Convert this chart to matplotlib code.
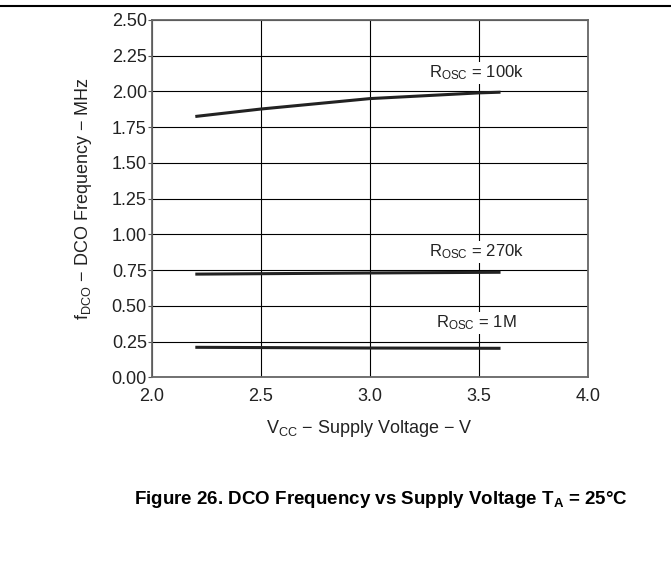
import matplotlib
matplotlib.use("Agg")
import matplotlib.pyplot as plt
from matplotlib.lines import Line2D

plt.rcParams['font.family'] = ['Liberation Sans', 'DejaVu Sans']
plt.rcParams['mathtext.fontset'] = 'custom'
plt.rcParams['mathtext.rm'] = 'Liberation Sans'
plt.rcParams['mathtext.it'] = 'Liberation Sans'
plt.rcParams['mathtext.bf'] = 'Liberation Sans:bold'

# data
vcc = [2.2, 2.5, 3.0, 3.5, 3.6]
f_100k = [1.825, 1.877, 1.95, 1.99, 1.995]
vcc_flat = [2.2, 3.0, 3.6]
f_270k = [0.722, 0.73, 0.735]
f_1m = [0.21, 0.205, 0.203]

labels = [r'$\mathrm{R_{OSC}}$ = 100k', r'$\mathrm{R_{OSC}}$ = 270k', r'$\mathrm{R_{OSC}}$ = 1M']
label_pos = [(3.49, 2.13), (3.49, 0.877), (3.49, 0.38)]

xticks = [2.0, 2.5, 3.0, 3.5, 4.0]
yticks = [0.0, 0.25, 0.5, 0.75, 1.0, 1.25, 1.5, 1.75, 2.0, 2.25, 2.5]

fig = plt.figure(figsize=(6.71, 5.78), dpi=100)
ax = fig.add_axes([0.2261, 0.3472, 0.6498, 0.6182])

line_color = '#222222'
ax.plot(vcc, f_100k, color=line_color, lw=2.2, solid_capstyle='butt', zorder=3)
ax.plot(vcc_flat, f_270k, color=line_color, lw=2.2, solid_capstyle='butt', zorder=3)
ax.plot(vcc_flat, f_1m, color=line_color, lw=2.2, solid_capstyle='butt', zorder=3)

for txt, (x, y) in zip(labels, label_pos):
    ax.text(x, y, txt, ha='center', va='center', fontsize=12, color='#222222',
            bbox=dict(facecolor='white', edgecolor='none', pad=1), zorder=4)

ax.set_xlim(2.0, 4.0)
ax.set_ylim(0.0, 2.5)
ax.set_xticks(xticks)
ax.set_xticklabels(['%.1f' % t for t in xticks])
ax.set_yticks(yticks)
ax.set_yticklabels(['%.2f' % t for t in yticks])
ax.grid(True, color='black', lw=0.8)
ax.set_axisbelow(True)

ax.tick_params(axis='x', length=0, pad=8, labelsize=13, labelcolor='#222222')
ax.tick_params(axis='y', length=3, width=0.8, pad=0.5, labelsize=13, labelcolor='#222222', color='#555555')
for s in ax.spines.values():
    s.set_color('#666666')
    s.set_linewidth(1.3)

ax.set_xlabel(r'V$\mathrm{_{CC}}$ $-$ Supply Voltage $-$ V', fontsize=13, color='#222222')
ax.xaxis.set_label_coords(0.5, -0.115)
ax.set_ylabel(r'f$\mathrm{_{DCO}}$ $-$ DCO Frequency $-$ MHz', fontsize=13, color='#222222')
ax.yaxis.set_label_coords(-0.132, 0.5)

# rule across the top of the page
fig.add_artist(Line2D([0, 1], [1 - 6 / 578, 1 - 6 / 578], color='black', lw=1.5))

fig.text(0.568, 0.135, r'Figure 26. DCO Frequency vs Supply Voltage $\mathbf{T_A}$ = 25°C',
         ha='center', va='center', fontsize=13.5, fontweight='bold')

fig.savefig('out.png', dpi=100)
